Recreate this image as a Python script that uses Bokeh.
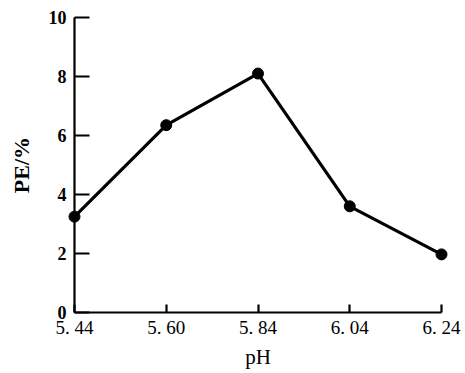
from bokeh.plotting import figure
from bokeh.models import Range1d, FixedTicker, ColumnDataSource
from bokeh.embed import file_html
from bokeh.resources import INLINE

ph_labels = ["5. 44", "5. 60", "5. 84", "6. 04", "6. 24"]
pe_values = [3.25, 6.35, 8.1, 3.6, 1.97]
y_ticks = [0, 2, 4, 6, 8, 10]

xs = list(range(len(ph_labels)))
src = ColumnDataSource(dict(x=xs, y=pe_values))

p = figure(frame_width=367, frame_height=295, output_backend="svg",
           toolbar_location=None,
           x_range=Range1d(0, 4), y_range=Range1d(0, 10),
           min_border_left=74, min_border_right=22, min_border_top=17,
           min_border_bottom=58)
p.outline_line_color = None
p.grid.visible = False

p.line("x", "y", source=src, line_color="black", line_width=3.2, level="overlay")
p.scatter("x", "y", source=src, size=11, color="black", level="overlay")

xa = p.xaxis[0]
xa.ticker = FixedTicker(ticks=xs)
xa.major_label_overrides = {i: l for i, l in enumerate(ph_labels)}
xa.major_tick_in = 8
xa.major_tick_out = 0
xa.minor_tick_line_color = None
xa.axis_line_width = 2.2
xa.major_tick_line_width = 2.2
xa.major_label_text_font = "Liberation Serif"
xa.major_label_text_font_size = "19px"
xa.major_label_text_color = "black"
xa.major_label_standoff = 4
xa.axis_label = "pH"
xa.axis_label_text_font = "Liberation Serif"
xa.axis_label_text_font_style = "normal"
xa.axis_label_text_font_size = "21px"
xa.axis_label_text_color = "black"
xa.axis_label_standoff = 4

ya = p.yaxis[0]
ya.ticker = FixedTicker(ticks=y_ticks)
ya.major_tick_in = 15
ya.major_tick_out = 0
ya.minor_tick_line_color = None
ya.axis_line_width = 2.2
ya.major_tick_line_width = 2.2
ya.major_label_text_font = "Liberation Serif"
ya.major_label_text_font_style = "bold"
ya.major_label_text_font_size = "18px"
ya.major_label_text_color = "black"
ya.major_label_standoff = 8
ya.axis_label = "PE/%"
ya.axis_label_text_font = "Liberation Serif"
ya.axis_label_text_font_style = "bold"
ya.axis_label_text_font_size = "22px"
ya.axis_label_text_color = "black"
ya.axis_label_standoff = 12

open("out.html", "w").write(file_html(p, INLINE))
